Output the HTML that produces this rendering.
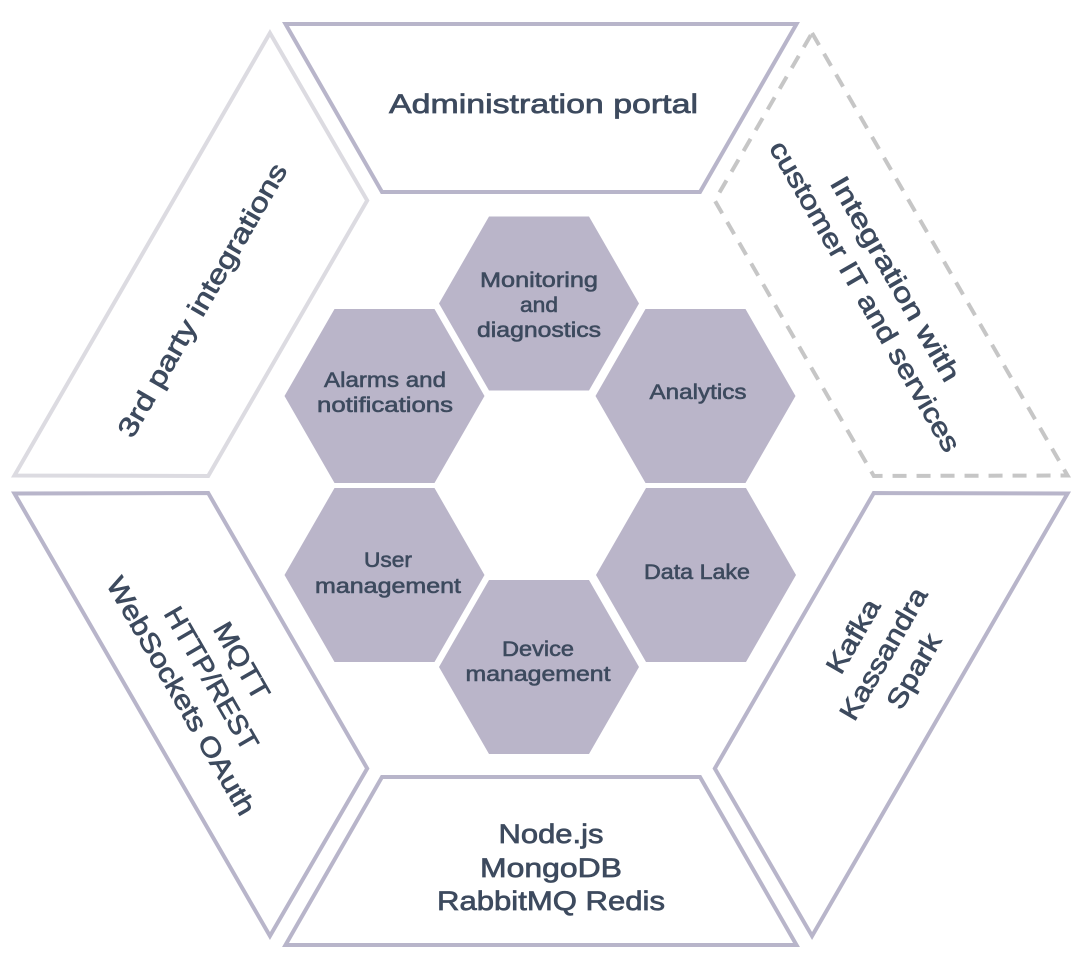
<!DOCTYPE html>
<html>
<head>
<meta charset="utf-8">
<style>
  html, body { margin: 0; padding: 0; background: #ffffff; }
  svg { display: block; }
  .t { font-family: "Liberation Sans", "DejaVu Sans", sans-serif; fill: #3d4a5e; stroke: #3d4a5e; stroke-width: 0.7; }
  .big { font-size: 27px; }
  .hx { font-size: 21.5px; stroke-width: 0.6; }
</style>
</head>
<body>
<svg width="1091" height="962" viewBox="0 0 1091 962" xmlns="http://www.w3.org/2000/svg">
  <rect x="0" y="0" width="1091" height="962" fill="#ffffff"/>

  <!-- Outer trapezoids (base = top, rotated around center) -->
  <g fill="none" stroke-width="4" stroke-linejoin="miter">
    <polygon points="285.5,24 796.5,24 700,192 382,192" stroke="#b8b5ca"/>
    <polygon points="285.5,24 796.5,24 700,192 382,192" stroke="#dcdbe1" transform="rotate(-60 541 484.5)"/>
    <polygon points="285.5,24 796.5,24 700,192 382,192" stroke="#c6c6c6" stroke-dasharray="14 10" transform="rotate(60 541 484.5)"/>
    <polygon points="285.5,24 796.5,24 700,192 382,192" stroke="#b8b5ca" transform="rotate(120 541 484.5)"/>
    <polygon points="285.5,24 796.5,24 700,192 382,192" stroke="#b8b5ca" transform="rotate(180 541 484.5)"/>
    <polygon points="285.5,24 796.5,24 700,192 382,192" stroke="#b8b5ca" transform="rotate(240 541 484.5)"/>
  </g>

  <!-- Inner hexagons -->
  <g fill="#bab5c9">
    <polygon points="439,303.5 489,216.5 589,216.5 639,303.5 589,390.5 489,390.5"/>
    <polygon points="284.5,396 334.5,309 434.5,309 484.5,396 434.5,483 334.5,483"/>
    <polygon points="595.5,396 645.5,309 745.5,309 795.5,396 745.5,483 645.5,483"/>
    <polygon points="284.5,575 334.5,488 434.5,488 484.5,575 434.5,662 334.5,662"/>
    <polygon points="596,575 646,488 746,488 796,575 746,662 646,662"/>
    <polygon points="439,667 489,580 589,580 639,667 589,754 489,754"/>
  </g>

  <!-- Hex labels -->
  <g class="t hx" text-anchor="middle">
    <text x="539" y="287" textLength="118" lengthAdjust="spacingAndGlyphs">Monitoring</text>
    <text x="539" y="312" textLength="38" lengthAdjust="spacingAndGlyphs">and</text>
    <text x="539" y="337" textLength="124" lengthAdjust="spacingAndGlyphs">diagnostics</text>

    <text x="385" y="387" textLength="122" lengthAdjust="spacingAndGlyphs">Alarms and</text>
    <text x="385" y="412" textLength="136" lengthAdjust="spacingAndGlyphs">notifications</text>

    <text x="698" y="399" textLength="97" lengthAdjust="spacingAndGlyphs">Analytics</text>

    <text x="388" y="567" textLength="48" lengthAdjust="spacingAndGlyphs">User</text>
    <text x="388" y="593" textLength="146" lengthAdjust="spacingAndGlyphs">management</text>

    <text x="697" y="579" textLength="106" lengthAdjust="spacingAndGlyphs">Data Lake</text>

    <text x="538" y="656" textLength="72" lengthAdjust="spacingAndGlyphs">Device</text>
    <text x="538" y="681" textLength="145" lengthAdjust="spacingAndGlyphs">management</text>
  </g>

  <!-- Outer labels -->
  <g class="t big" text-anchor="middle">
    <text x="543.5" y="113" textLength="309" lengthAdjust="spacingAndGlyphs">Administration portal</text>

    <text x="551" y="843" textLength="105" lengthAdjust="spacingAndGlyphs">Node.js</text>
    <text x="551" y="877" textLength="142" lengthAdjust="spacingAndGlyphs">MongoDB</text>
    <text x="551" y="910" textLength="228" lengthAdjust="spacingAndGlyphs">RabbitMQ Redis</text>

    <g transform="translate(202,300) rotate(-60)">
      <text x="0" y="9.5" textLength="311" lengthAdjust="spacingAndGlyphs">3rd party integrations</text>
    </g>

    <g transform="translate(211.7,678.3) rotate(60)">
      <text x="0" y="-25.5" textLength="85" lengthAdjust="spacingAndGlyphs">MQTT</text>
      <text x="0" y="9.5" textLength="161" lengthAdjust="spacingAndGlyphs">HTTP/REST</text>
      <text x="0" y="44.5" textLength="270" lengthAdjust="spacingAndGlyphs">WebSockets OAuth</text>
    </g>

    <g transform="translate(880.4,287.4) rotate(60)">
      <text x="0" y="-8" textLength="232" lengthAdjust="spacingAndGlyphs">Integration with</text>
      <text x="0" y="27" textLength="354" lengthAdjust="spacingAndGlyphs">customer IT and services</text>
    </g>

    <g transform="translate(883.2,653.6) rotate(-60)">
      <text x="0" y="-25.5" textLength="81" lengthAdjust="spacingAndGlyphs">Kafka</text>
      <text x="0" y="9.5" textLength="148" lengthAdjust="spacingAndGlyphs">Kassandra</text>
      <text x="0" y="44.5" textLength="82" lengthAdjust="spacingAndGlyphs">Spark</text>
    </g>
  </g>
</svg>
</body>
</html>
